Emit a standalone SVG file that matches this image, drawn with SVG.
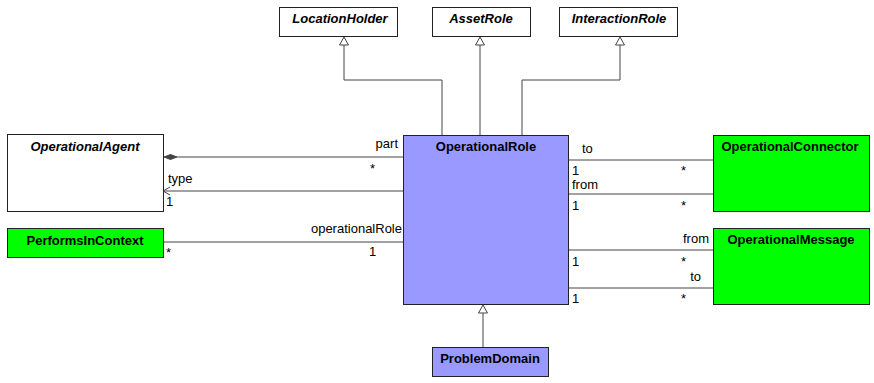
<svg xmlns="http://www.w3.org/2000/svg" width="874" height="383" viewBox="0 0 874 383">
<style>
.box{stroke:#222;stroke-width:1}
.abs{fill:#fff}
.role{fill:#9999ff}
.grn{fill:#00ff00}
.t{font-family:"Liberation Sans",Arial,sans-serif;font-size:13px;font-weight:bold;text-anchor:middle;fill:#000}
.ti{font-style:italic}
.l{font-family:"Liberation Sans",Arial,sans-serif;font-size:13px;fill:#000}
.e{text-anchor:end}
.c{fill:none;stroke:#444;stroke-width:1}
.g{fill:#fff;stroke:#444;stroke-width:1}
</style>
<g id="connectors">
<polyline class="c" points="344,45 344,80 442,80 442,135"/>
<line class="c" x1="480" y1="45" x2="480" y2="135"/>
<polyline class="c" points="620,45 620,80 522,80 522,135"/>
<line class="c" x1="483" y1="313" x2="483" y2="347"/>
<path class="g" d="M344,37 L348.500,45 L339.500,45 Z"/>
<path class="g" d="M480,37 L484.500,45 L475.500,45 Z"/>
<path class="g" d="M620,37 L624.500,45 L615.500,45 Z"/>
<path class="g" d="M483,305 L487.500,313 L478.500,313 Z"/>
<line class="c" x1="177" y1="157" x2="403" y2="157"/>
<path d="M164,157 L170.500,154.500 L177,157 L170.500,159.500 Z" fill="#444" stroke="#444"/>
<line class="c" x1="163" y1="191" x2="403" y2="191"/>
<polyline class="c" points="170,187 163,191 170,195"/>
<line class="c" x1="163" y1="242" x2="403" y2="242"/>
<line class="c" x1="568" y1="160" x2="713" y2="160"/>
<line class="c" x1="568" y1="194" x2="713" y2="194"/>
<line class="c" x1="568" y1="250" x2="713" y2="250"/>
<line class="c" x1="568" y1="288" x2="713" y2="288"/>
<text class="l e" x="398" y="148">part</text>
<text class="l" x="370" y="173">*</text>
<text class="l" x="168" y="183">type</text>
<text class="l" x="166" y="206">1</text>
<text class="l e" x="402" y="233">operationalRole</text>
<text class="l" x="166" y="257">*</text>
<text class="l" x="369" y="256">1</text>
<text class="l" x="582" y="153">to</text>
<text class="l" x="572" y="175">1</text>
<text class="l" x="681" y="175">*</text>
<text class="l" x="572" y="189">from</text>
<text class="l" x="572" y="210">1</text>
<text class="l" x="681" y="210">*</text>
<text class="l e" x="709" y="243">from</text>
<text class="l" x="572" y="266">1</text>
<text class="l" x="681" y="266">*</text>
<text class="l e" x="701" y="281">to</text>
<text class="l" x="572" y="303">1</text>
<text class="l" x="681" y="303">*</text>
</g>
<g id="LocationHolder"><rect class="box abs" x="279.500" y="7.500" width="118" height="29"/><text class="t ti" x="340" y="23">LocationHolder</text></g>
<g id="AssetRole"><rect class="box abs" x="432.500" y="7.500" width="98" height="29"/><text class="t ti" x="481" y="23">AssetRole</text></g>
<g id="InteractionRole"><rect class="box abs" x="559.500" y="7.500" width="118" height="29"/><text class="t ti" x="619" y="23">InteractionRole</text></g>
<g id="OperationalAgent"><rect class="box abs" x="7.500" y="134.500" width="156" height="77"/><text class="t ti" x="85" y="151">OperationalAgent</text></g>
<g id="PerformsInContext"><rect class="box grn" x="7.500" y="228.500" width="156" height="29"/><text class="t" x="85" y="245">PerformsInContext</text></g>
<g id="OperationalRole"><rect class="box role" x="403.500" y="135.500" width="165" height="169"/><text class="t" x="486" y="151">OperationalRole</text></g>
<g id="OperationalConnector"><rect class="box grn" x="713.500" y="135.500" width="156" height="76"/><text class="t" x="790" y="151">OperationalConnector</text></g>
<g id="OperationalMessage"><rect class="box grn" x="713.500" y="228.500" width="156" height="76"/><text class="t" x="791" y="244">OperationalMessage</text></g>
<g id="ProblemDomain"><rect class="box role" x="432.500" y="347.500" width="116" height="29"/><text class="t" x="490" y="363">ProblemDomain</text></g>
</svg>
